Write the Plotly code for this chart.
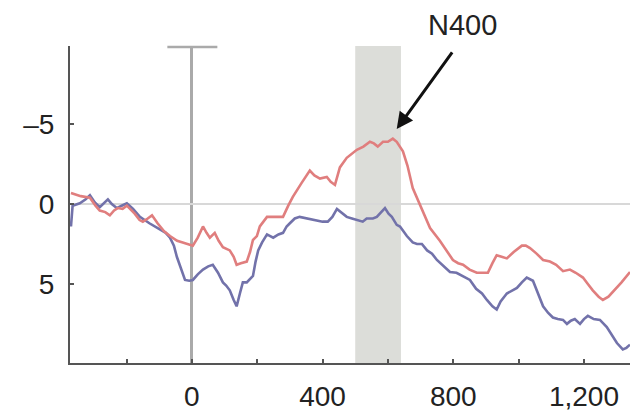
import plotly.graph_objects as go

# Time (ms) and amplitude (µV)
red_t = [-370, -340, -312, -295, -282, -265, -251, -238, -227, -212, -199, -175, -160, -150, -135, -122,
         -105, -85, -67, -45, -28, -10, 3, 18, 34, 45, 55, 70, 82, 95, 105, 116, 128, 137, 150, 168,
         178, 187, 199, 208, 230, 255, 279, 295, 309, 335, 361, 375, 392, 413, 425, 438, 453, 474,
         493, 505, 525, 545, 557, 569, 585, 600, 615, 627, 646, 660, 676, 689, 707, 729, 759, 780,
         799, 815, 830, 850, 872, 890, 906, 920, 933, 948, 964, 985, 1010, 1022, 1035, 1055, 1075,
         1096, 1115, 1136, 1157, 1175, 1197, 1212, 1227, 1245, 1258, 1275, 1289, 1315, 1341]
red_v = [-0.7, -0.5, -0.4, 0.1, 0.4, 0.5, 0.7, 0.4, 0.25, 0.3, 0.1, 0.6, 1.0, 1.1, 0.9, 0.7,
         1.2, 1.7, 2.0, 2.3, 2.4, 2.5, 2.6, 2.1, 1.4, 1.8, 2.1, 1.8, 2.3, 2.7, 2.8, 2.9, 3.3, 3.8, 3.7, 3.6,
         3.0, 2.25, 2.0, 1.4, 0.8, 0.8, 0.8, 0.1, -0.45, -1.3, -2.1, -1.8, -1.6, -1.7, -1.4, -1.2, -2.3, -2.9,
         -3.2, -3.4, -3.6, -3.9, -3.8, -3.6, -3.9, -3.9, -4.1, -3.9, -3.3, -2.4, -1.0, -0.4, 0.4, 1.5, 2.3, 2.9,
         3.5, 3.7, 3.8, 4.1, 4.3, 4.3, 4.3, 3.7, 3.2, 3.3, 3.4, 3.0, 2.6, 2.6, 2.75, 3.1, 3.5,
         3.6, 3.8, 4.2, 4.1, 4.3, 4.6, 5.0, 5.4, 5.8, 6.0, 5.8, 5.5, 4.9, 4.25]

blue_t = [-370, -365, -343, -325, -312, -297, -282, -268, -257, -245, -230, -215, -199, -180, -159, -130,
          -98, -80, -67, -55, -46, -33, -21, -8, 3, 18, 34, 50, 64, 80, 95, 105, 116, 128, 137, 147,
          156, 168, 177, 187, 195, 203, 215, 230, 249, 265, 279, 290, 300, 315, 330, 355, 382, 400,
          416, 430, 444, 460, 474, 490, 505, 523, 535, 554, 566, 580, 591, 602, 612, 627, 637, 658,
          676, 689, 704, 720, 735, 750, 765, 790, 810, 830, 851, 870, 888, 903, 920, 933, 945, 964,
          980, 995, 1010, 1025, 1044, 1060, 1075, 1090, 1105, 1120, 1136, 1148, 1160, 1172, 1188,
          1200, 1212, 1230, 1249, 1270, 1285, 1301, 1319, 1330, 1341]
blue_v = [1.4, 0.1, -0.05, -0.3, -0.55, -0.1, 0.2, -0.1, -0.3, 0.0, 0.25, 0.1, -0.05, 0.3, 0.8, 1.2,
          1.6, 1.8, 2.1, 2.6, 3.3, 4.1, 4.75, 4.8, 4.75, 4.4, 4.1, 3.9, 3.8, 4.3, 4.9, 5.1, 5.4, 6.0, 6.4, 5.6,
          4.9, 4.9, 4.7, 4.5, 3.6, 2.9, 2.4, 1.9, 2.1, 1.9, 1.8, 1.4, 1.2, 0.9, 0.8, 0.9, 1.0, 1.1,
          1.1, 0.8, 0.3, 0.6, 0.8, 0.9, 1.0, 1.1, 0.9, 0.9, 0.8, 0.5, 0.25, 0.6, 0.8, 1.3, 1.4, 2.0,
          2.4, 2.5, 2.5, 2.9, 3.1, 3.5, 3.8, 4.25, 4.3, 4.5, 4.75, 5.3, 5.6, 6.0, 6.4, 6.6, 6.1, 5.6,
          5.4, 5.25, 4.9, 4.6, 4.8, 5.6, 6.4, 6.8, 7.1, 7.2, 7.25, 7.5, 7.3, 7.2, 7.5,
          7.2, 7.0, 7.2, 7.25, 7.7, 8.2, 8.7, 9.1, 9.0, 8.8]

x_tickvals = [-200, 0, 200, 400, 600, 800, 1000, 1200]
x_ticktext = ["", "0", "", "400", "", "800", "", "1,200"]
y_tickvals = [-5, 0, 5]
y_ticktext = ["\u20135", "0", "5"]

n400_window = [500, 640]
annotation_label = "N400"

FONT = "Liberation Sans, Arial, Helvetica, sans-serif"
AXIS_COLOR = "#555555"

fig = go.Figure()
fig.add_trace(go.Scatter(x=blue_t, y=blue_v, mode="lines",
                         line=dict(color="#7272aa", width=2.6), showlegend=False))
fig.add_trace(go.Scatter(x=red_t, y=red_v, mode="lines",
                         line=dict(color="#e07e7e", width=2.6), showlegend=False))

# Shaded N400 window
fig.add_vrect(x0=n400_window[0], x1=n400_window[1], fillcolor="#dcddd9", opacity=1,
              line_width=0, layer="below")

# Cap on the stimulus-onset line
fig.add_shape(type="line", xref="x", yref="paper", x0=-75, x1=78, y0=0.997, y1=0.997,
              line=dict(color="#aaaaaa", width=2.5), layer="below")

# N400 label and arrow
fig.add_annotation(x=627, y=-4.7, ax=800, ay=-9.6, xref="x", yref="y", axref="x", ayref="y",
                   showarrow=True, arrowhead=2, arrowsize=1.1, arrowwidth=3, arrowcolor="#111111",
                   text="")
fig.add_annotation(x=828, y=1.066, xref="x", yref="paper", text=annotation_label, showarrow=False,
                   yanchor="middle", font=dict(family=FONT, size=29, color="#222222"))

fig.update_layout(
    width=638, height=411,
    margin=dict(l=70, r=8, t=46, b=48, autoexpand=False),
    plot_bgcolor="white", paper_bgcolor="white",
    font=dict(family=FONT, size=28, color="#222222"),
)
fig.update_xaxes(range=[-373, 1341], showgrid=False, automargin=False,
                 zeroline=True, zerolinecolor="#aaaaaa", zerolinewidth=2.5,
                 showline=True, linecolor=AXIS_COLOR, linewidth=2,
                 ticks="inside", ticklen=4, tickwidth=2, tickcolor=AXIS_COLOR,
                 tickvals=x_tickvals, ticktext=x_ticktext, ticklabelstandoff=7)
fig.update_yaxes(range=[9.95, -9.9], showgrid=False, automargin=False,
                 zeroline=True, zerolinecolor="#d8d8d8", zerolinewidth=1.5,
                 showline=True, linecolor=AXIS_COLOR, linewidth=2,
                 ticks="inside", ticklen=4, tickwidth=2, tickcolor=AXIS_COLOR,
                 tickvals=y_tickvals, ticktext=y_ticktext, ticklabelstandoff=8)

fig.write_html("out.html", config={"displayModeBar": False},
               post_script="document.body.style.margin='0';document.body.style.overflow='hidden';")
